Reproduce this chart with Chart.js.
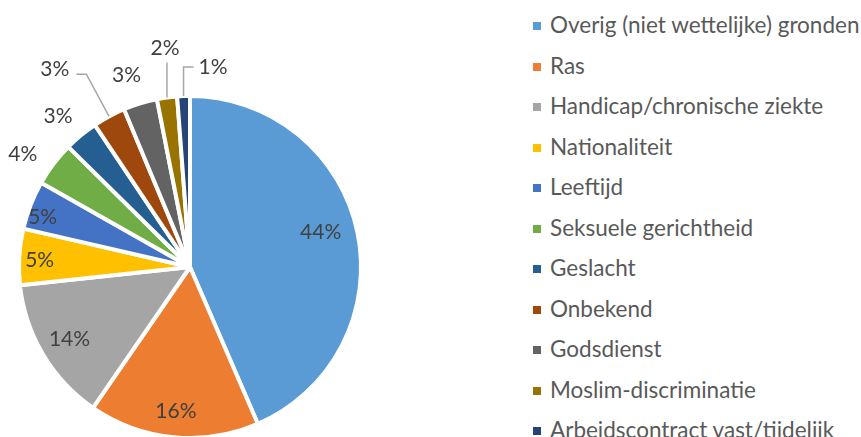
<!DOCTYPE html>
<html>
<head>
<meta charset="utf-8">
<script src="https://cdn.jsdelivr.net/npm/chart.js@4.4.1/dist/chart.umd.min.js"></script>
<style>
  html, body { margin: 0; padding: 0; background: #fff; overflow: hidden; width: 861px; height: 437px; }
  #wrap { position: absolute; left: 0; top: 0; width: 380px; height: 470px; }
  #legend { position: absolute; left: 533px; top: 5px; margin: 0; padding: 0; list-style: none;
            font-family: Lato, "Noto Sans", sans-serif; font-size: 22.5px; color: #595959; white-space: nowrap; }
  #legend li { height: 40.5px; line-height: 40.5px; }
  #legend .box { display: inline-block; width: 8px; height: 8px; margin-right: 9px; vertical-align: middle; position: relative; top: -1px; }
</style>
</head>
<body>
<div id="wrap"><canvas id="pie"></canvas></div>
<ul id="legend"></ul>
<script>
(function () {
  'use strict';

  // === Data ===
  const sliceLabels = [
    'Overig (niet wettelijke) gronden',
    'Ras',
    'Handicap/chronische ziekte',
    'Nationaliteit',
    'Leeftijd',
    'Seksuele gerichtheid',
    'Geslacht',
    'Onbekend',
    'Godsdienst',
    'Moslim-discriminatie',
    'Arbeidscontract vast/tijdelijk'
  ];
  const slicePct = [43.5, 16.1, 13.7, 5.3, 4.6, 4.2, 3.2, 3.1, 3.2, 1.9, 1.2];
  const sliceColors = [
    '#5B9BD5', '#ED7D31', '#A5A5A5', '#FFC000', '#4472C4', '#70AD47',
    '#255E91', '#9E480E', '#636363', '#997300', '#264478'
  ];

  // label placement (radius factor / angle shift in degrees, or a leader line)
  const labelLayout = [
    { rf: 0.79, da: -3 },
    { rf: 0.85, da: 0 },
    { rf: 0.82, da: 0 },
    { rf: 0.88, da: -1 },
    { rf: 0.91, da: -2.5 },
    { rf: 1.18, da: -3 },
    { rf: 1.17, da: -1.7 },
    { leader: { radial: 1.28, h: -10 } },
    { rf: 1.18, da: -1.4 },
    { leader: { up: 35, h: 0 } },
    { leader: { up: 29, h: 10 } }
  ];

  const FONT = '21px Lato, "Noto Sans", sans-serif';

  // === Data labels ===
  const pieLabels = {
    id: 'pieLabels',
    afterDatasetsDraw(chart) {
      const ctx = chart.ctx;
      const meta = chart.getDatasetMeta(0);
      ctx.save();
      ctx.font = FONT;
      ctx.fillStyle = '#404040';
      ctx.textBaseline = 'middle';
      meta.data.forEach((arc, i) => {
        const p = arc.getProps(['x', 'y', 'startAngle', 'endAngle', 'outerRadius'], true);
        const L = labelLayout[i];
        const mid = (p.startAngle + p.endAngle) / 2;
        const txt = Math.round(slicePct[i]) + '%';
        if (!L.leader) {
          const a = mid + L.da * Math.PI / 180;
          const r = p.outerRadius * L.rf;
          ctx.textAlign = 'center';
          ctx.fillText(txt, p.x + Math.cos(a) * r, p.y + Math.sin(a) * r);
          return;
        }
        const ld = L.leader;
        let x = p.x + Math.cos(mid) * p.outerRadius;
        let y = p.y + Math.sin(mid) * p.outerRadius;
        ctx.beginPath();
        ctx.moveTo(x, y);
        if (ld.radial) {
          const r = p.outerRadius * ld.radial;
          x = p.x + Math.cos(mid) * r;
          y = p.y + Math.sin(mid) * r;
          ctx.lineTo(x, y);
        }
        if (ld.up) { y -= ld.up; ctx.lineTo(x, y); }
        if (ld.h) { x += ld.h; ctx.lineTo(x, y); }
        ctx.strokeStyle = '#A6A6A6';
        ctx.lineWidth = 1.5;
        ctx.stroke();
        if (ld.h < 0) {
          ctx.textAlign = 'right';
          ctx.fillText(txt, x - 7, y - 5);
        } else if (ld.h > 0) {
          ctx.textAlign = 'left';
          ctx.fillText(txt, x + 5, y);
        } else {
          ctx.textAlign = 'center';
          ctx.fillText(txt, x - 2, y - 14);
        }
      });
      ctx.restore();
    }
  };

  const chart = new Chart(document.getElementById('pie'), {
    type: 'pie',
    data: {
      labels: sliceLabels,
      datasets: [{
        data: slicePct,
        backgroundColor: sliceColors,
        borderColor: '#FFFFFF',
        borderWidth: 4
      }]
    },
    options: {
      responsive: true,
      maintainAspectRatio: false,
      animation: false,
      layout: { padding: { left: 16, right: 16, top: 94, bottom: 30 } },
      plugins: {
        legend: { display: false },
        tooltip: { enabled: false }
      }
    },
    plugins: [pieLabels]
  });

  // === HTML legend ===
  const legend = document.getElementById('legend');
  chart.data.labels.forEach((lab, i) => {
    const li = document.createElement('li');
    const box = document.createElement('span');
    box.className = 'box';
    box.style.background = sliceColors[i];
    li.appendChild(box);
    li.appendChild(document.createTextNode(lab));
    legend.appendChild(li);
  });
})();
</script>
</body>
</html>
